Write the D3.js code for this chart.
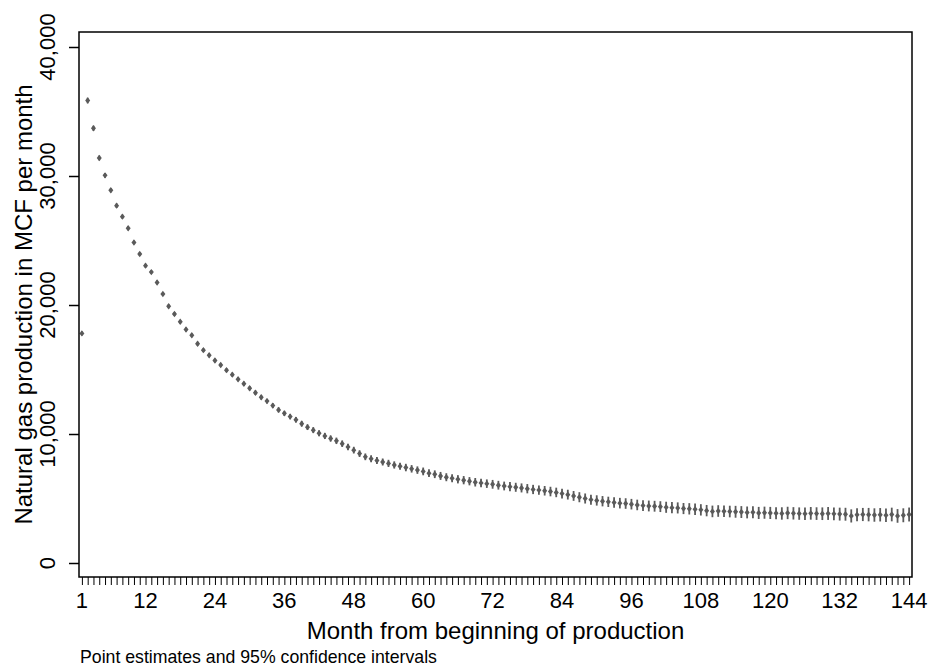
<!DOCTYPE html>
<meta charset="utf-8">
<script src="https://d3js.org/d3.v7.min.js"></script>
<style>
  body { margin: 0; background: #fff; }
  text { font-family: "Liberation Sans", Arial, Helvetica, sans-serif; fill: #000; }
</style>
<div id="chart"></div>
<script>
// Point estimates, month 1..144 (MCF per month)
var production = [
  17800, 35850, 33700, 31400, 30050, 28900, 27700, 26850, 25950, 24850,
  23950, 23050, 22550, 21750, 20850, 19900, 19300, 18700, 18100, 17650,
  17000, 16500, 16100, 15700, 15350, 14950, 14600, 14250, 13900, 13550,
  13200, 12850, 12550, 12200, 11870, 11600, 11350, 11100, 10800, 10530,
  10300, 10060, 9850, 9650, 9470, 9250, 9000, 8750, 8480, 8230,
  8080, 7950, 7830, 7720, 7600, 7500, 7400, 7300, 7200, 7100,
  6960, 6880, 6750, 6650, 6570, 6490, 6420, 6340, 6260, 6210,
  6150, 6100, 6030, 5970, 5920, 5870, 5820, 5760, 5700, 5650,
  5600, 5540, 5470, 5380, 5300, 5200, 5100, 5000, 4910, 4850,
  4790, 4740, 4690, 4640, 4610, 4560, 4500, 4450, 4420, 4400,
  4370, 4320, 4290, 4270, 4220, 4200, 4170, 4120, 4060, 4000,
  4030, 4010, 3990, 3970, 3950, 3920, 3930, 3880, 3900, 3880,
  3860, 3840, 3880, 3850, 3830, 3820, 3850, 3830, 3820, 3840,
  3810, 3790, 3780, 3650, 3740, 3760, 3750, 3720, 3740, 3700,
  3760, 3650, 3700, 3760
];

// Half width of the 95% confidence interval, month 1..144
var ciHalf = [
  160, 220, 200, 190, 180, 170, 170, 160, 160, 150,
  150, 150, 150, 150, 150, 150, 150, 150, 150, 150,
  150, 150, 150, 150, 160, 160, 160, 170, 170, 170,
  180, 180, 190, 190, 200, 200, 210, 210, 220, 220,
  230, 230, 240, 240, 250, 250, 250, 260, 260, 260,
  270, 270, 270, 280, 280, 280, 290, 290, 290, 300,
  300, 300, 310, 310, 310, 320, 320, 320, 330, 330,
  330, 340, 340, 340, 350, 350, 350, 360, 360, 360,
  370, 370, 370, 380, 380, 380, 390, 390, 390, 400,
  400, 400, 400, 410, 410, 410, 410, 420, 420, 420,
  420, 430, 430, 430, 430, 440, 440, 440, 440, 450,
  450, 450, 450, 460, 460, 460, 460, 470, 470, 470,
  470, 480, 480, 480, 480, 490, 490, 490, 490, 500,
  500, 500, 500, 510, 510, 510, 520, 520, 520, 530,
  530, 530, 540, 540
];

var xTickLabels = [1, 12, 24, 36, 48, 60, 72, 84, 96, 108, 120, 132, 144];
var yTickLabels = [0, 10000, 20000, 30000, 40000];

var xTitle = "Month from beginning of production";
var yTitle = "Natural gas production in MCF per month";
var note = "Point estimates and 95% confidence intervals";

var data = production.map(function(v, i) {
  return { month: i + 1, value: v, lo: v - ciHalf[i], hi: v + ciHalf[i] };
});

// Plot region
var margin = {top: 32, right: 21, bottom: 94, left: 79},
    width = 933 - margin.left - margin.right,
    height = 671 - margin.top - margin.bottom;

var svg = d3.select("#chart").append("svg")
    .attr("width", 933)
    .attr("height", 671);

var g = svg.append("g")
    .attr("transform", "translate(" + margin.left + "," + margin.top + ")");

var x = d3.scaleLinear()
  .domain([0.5, 144.5])
  .range([0, width]);

var y = d3.scaleLinear()
  .domain([-1085, 41163])
  .range([height, 0]);

var markColor = "#5a5a5a";

// CI spikes
g.selectAll(".ci")
  .data(data)
  .enter()
  .append("line")
    .attr("class", "ci")
    .attr("x1", function(d) { return x(d.month); })
    .attr("x2", function(d) { return x(d.month); })
    .attr("y1", function(d) { return y(d.lo); })
    .attr("y2", function(d) { return y(d.hi); })
    .attr("stroke", markColor)
    .attr("stroke-width", 1.8);

// Diamond markers
var diamond = {
  draw: function(ctx, size) {
    var rx = 2.5, ry = 3.2;
    ctx.moveTo(0, -ry);
    ctx.lineTo(rx, 0);
    ctx.lineTo(0, ry);
    ctx.lineTo(-rx, 0);
    ctx.closePath();
  }
};
g.selectAll(".pt")
  .data(data)
  .enter()
  .append("path")
    .attr("class", "pt")
    .attr("d", d3.symbol().type(diamond))
    .attr("transform", function(d) { return "translate(" + x(d.month) + "," + y(d.value) + ")"; })
    .attr("fill", markColor);

// Frame
g.append("rect")
  .attr("width", width)
  .attr("height", height)
  .attr("fill", "none")
  .attr("stroke", "#000")
  .attr("stroke-width", 1.5);

// X axis: minor ticks every month, labels on major
var xAxis = g.append("g")
  .attr("transform", "translate(0," + height + ")");
xAxis.call(d3.axisBottom(x).tickValues(d3.range(1, 145)).tickSize(8).tickFormat(""))
xAxis.select(".domain").remove();
xAxis.selectAll("line").attr("stroke", "#000").attr("stroke-width", 1);
xAxis.selectAll(".lbl")
  .data(xTickLabels)
  .enter()
  .append("text")
    .attr("x", function(d) { return x(d); })
    .attr("y", 31)
    .attr("text-anchor", "middle")
    .style("font-size", "22px")
    .text(function(d) { return d; });

// Y axis: rotated labels
var yAxis = g.append("g");
yAxis.call(d3.axisLeft(y).tickValues(yTickLabels).tickSize(10).tickFormat(""));
yAxis.select(".domain").remove();
yAxis.selectAll("line").attr("stroke", "#000").attr("stroke-width", 1.5);
yAxis.selectAll(".lbl")
  .data(yTickLabels)
  .enter()
  .append("text")
    .attr("transform", function(d) { return "translate(-24," + y(d) + ") rotate(-90)"; })
    .attr("text-anchor", "middle")
    .style("font-size", "22px")
    .text(function(d) { return d3.format(",")(d); });

// Titles
svg.append("text")
  .attr("x", margin.left + width / 2)
  .attr("y", 639)
  .attr("text-anchor", "middle")
  .style("font-size", "24px")
  .text(xTitle);

svg.append("text")
  .attr("transform", "translate(32," + (margin.top + height / 2) + ") rotate(-90)")
  .attr("text-anchor", "middle")
  .style("font-size", "24px")
  .text(yTitle);

svg.append("text")
  .attr("x", 80)
  .attr("y", 663)
  .style("font-size", "17.7px")
  .text(note);
</script>
